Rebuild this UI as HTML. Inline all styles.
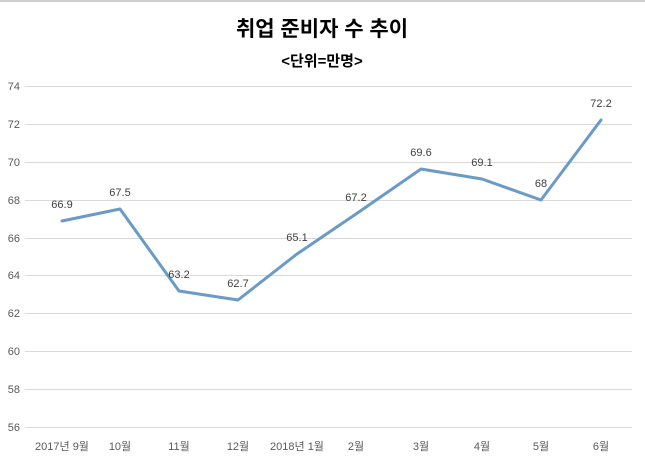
<!DOCTYPE html>
<html><head><meta charset="utf-8"><style>
body{margin:0;background:#fff;}
svg text{font-family:"Liberation Sans","Noto Sans CJK KR",sans-serif;}
</style></head><body>
<svg width="645" height="463" xmlns="http://www.w3.org/2000/svg">
<rect width="645" height="463" fill="#fff"/>
<line x1="0" y1="1" x2="645" y2="1" stroke="#d0d0d0" stroke-width="2"/>
<text x="322" y="36" font-size="21" font-weight="bold" text-anchor="middle" fill="#000">취업 준비자 수 추이</text>
<text x="322" y="66" font-size="15" font-weight="bold" text-anchor="middle" fill="#000">&lt;단위=만명&gt;</text>
<g stroke="#d9d9d9" stroke-width="1">
<line x1="25" y1="86.5" x2="632" y2="86.5"/><line x1="25" y1="124.5" x2="632" y2="124.5"/>
<line x1="25" y1="162.5" x2="632" y2="162.5"/><line x1="25" y1="200.5" x2="632" y2="200.5"/>
<line x1="25" y1="238.5" x2="632" y2="238.5"/><line x1="25" y1="275.5" x2="632" y2="275.5"/>
<line x1="25" y1="313.5" x2="632" y2="313.5"/><line x1="25" y1="351.5" x2="632" y2="351.5"/>
<line x1="25" y1="389.5" x2="632" y2="389.5"/><line x1="25" y1="427.5" x2="632" y2="427.5"/>
</g>
<g font-size="11" fill="#595959" text-anchor="end">
<text x="20" y="90">74</text><text x="20" y="128">72</text><text x="20" y="166">70</text>
<text x="20" y="204">68</text><text x="20" y="242">66</text><text x="20" y="279">64</text>
<text x="20" y="317">62</text><text x="20" y="355">60</text><text x="20" y="393">58</text>
<text x="20" y="431">56</text>
</g>
<g font-size="11" fill="#595959" text-anchor="middle">
<text x="62" y="450">2017년 9월</text><text x="120" y="450">10월</text><text x="179" y="450">11월</text>
<text x="238" y="450">12월</text><text x="297" y="450">2018년 1월</text><text x="356" y="450">2월</text>
<text x="421" y="450">3월</text><text x="482" y="450">4월</text><text x="541" y="450">5월</text>
<text x="601" y="450">6월</text>
</g>
<polyline fill="none" stroke="#6a9bc7" stroke-width="3" stroke-linejoin="round" stroke-linecap="round"
points="62,221 120,209 179,291 238,300 297,254 356,214 421,169 482,179 541,200 601,120"/>
<g font-size="11" fill="#404040" text-anchor="middle">
<text x="62" y="208">66.9</text><text x="120" y="196">67.5</text><text x="179" y="278">63.2</text>
<text x="238" y="287">62.7</text><text x="297" y="241">65.1</text><text x="356" y="201">67.2</text>
<text x="421" y="156">69.6</text><text x="482" y="166">69.1</text><text x="541" y="187">68</text>
<text x="601" y="107">72.2</text>
</g>
</svg>
</body></html>
